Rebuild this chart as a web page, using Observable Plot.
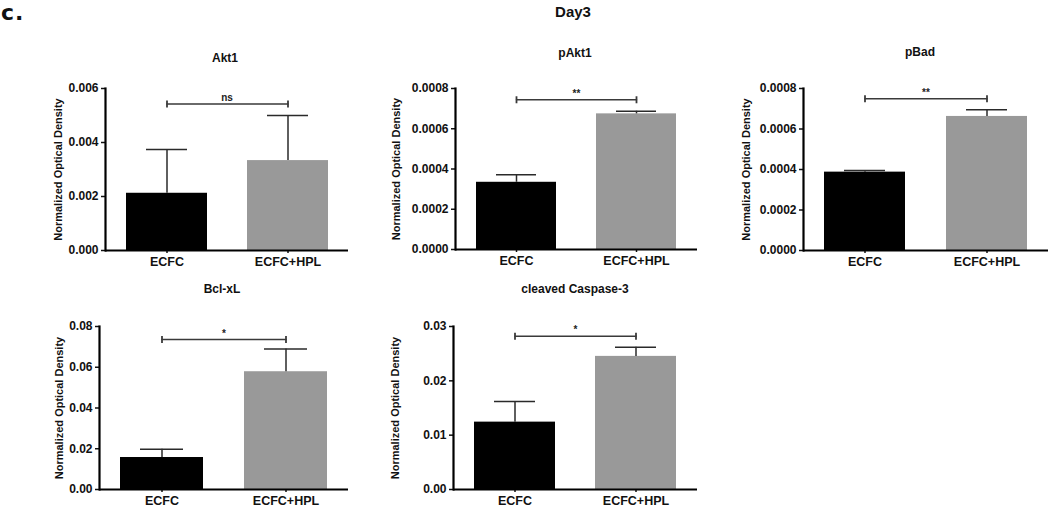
<!DOCTYPE html>
<html>
<head>
<meta charset="utf-8">
<script src="https://cdn.jsdelivr.net/npm/d3@7"></script>
<script src="https://cdn.jsdelivr.net/npm/@observablehq/plot@0.6"></script>
<style>
  html, body { margin: 0; padding: 0; background: #fff; }
  #root { position: relative; width: 1050px; height: 507px; overflow: hidden; font-family: "Liberation Sans", Arial, sans-serif; }
  .abs { position: absolute; }
  .title { position: absolute; font-weight: bold; font-size: 12px; color: #111; transform: translateX(-50%); white-space: nowrap; line-height: 1.2; }
</style>
</head>
<body>
<div id="root"></div>
<script>
// ---- Data ----
const groups = ["ECFC", "ECFC+HPL"];
const panelNames = ["Akt1", "pAkt1", "pBad", "Bcl-xL", "cleaved Caspase-3"];
const akt1Mean = [0.00212, 0.00333];
const akt1Upper = [0.00374, 0.00500];
const pakt1Mean = [0.000334, 0.000674];
const pakt1Upper = [0.000371, 0.000687];
const pbadMean = [0.000387, 0.000662];
const pbadUpper = [0.000395, 0.000695];
const bclMean = [0.0157, 0.0578];
const bclUpper = [0.0197, 0.0689];
const caspMean = [0.0124, 0.0245];
const caspUpper = [0.0162, 0.0262];
const sigHeights = [0.00543, 0.000744, 0.000749, 0.0736, 0.0282];
const sigLabels = ["ns", "**", "**", "*", "*"];
const yMaxes = [0.006, 0.0008, 0.0008, 0.08, 0.03];
const yTicks = [
  [0, 0.002, 0.004, 0.006],
  [0, 0.0002, 0.0004, 0.0006, 0.0008],
  [0, 0.0002, 0.0004, 0.0006, 0.0008],
  [0, 0.02, 0.04, 0.06, 0.08],
  [0, 0.01, 0.02, 0.03]
];
const tickDecimals = [3, 4, 4, 2, 2];
const yLabel = "Normalized Optical Density";
const figTitle = "Day3";
const panelLetter = "c.";

const means = [akt1Mean, pakt1Mean, pbadMean, bclMean, caspMean];
const uppers = [akt1Upper, pakt1Upper, pbadUpper, bclUpper, caspUpper];

// ---- Layout ----
const layout = [
  {left: 0,   top: 80,  height: 195, mL: 105, mR: 2, mT: 8, mB: 25, lab: 47, tx: 225, ty: 51},
  {left: 350, top: 80,  height: 195, mL: 105, mR: 3, mT: 8, mB: 26, lab: 59, tx: 575, ty: 46},
  {left: 700, top: 80,  height: 195, mL: 103, mR: 2, mT: 8, mB: 25, lab: 57, tx: 920, ty: 45},
  {left: 0,   top: 318, height: 189, mL: 99,  mR: 2, mT: 8, mB: 18, lab: 40, tx: 222, ty: 282},
  {left: 350, top: 318, height: 189, mL: 103, mR: 3, mT: 8, mB: 18, lab: 58, tx: 575, ty: 282}
];

const root = document.getElementById("root");

const letter = document.createElement("div");
letter.className = "abs";
letter.style.cssText = "left:1px;top:0px;font-size:22px;line-height:normal;font-weight:900;letter-spacing:1px;color:#111;font-family:'DejaVu Sans',Arial,sans-serif;";
letter.textContent = panelLetter;
root.appendChild(letter);

const day = document.createElement("div");
day.className = "title";
day.style.cssText += "left:573px;top:3px;font-size:15px;";
day.textContent = figTitle;
root.appendChild(day);

const vbar = {
  draw(context, size) {
    const h = Math.sqrt(size / Math.PI);
    context.moveTo(0, -h);
    context.lineTo(0, h);
  }
};

panelNames.forEach((name, i) => {
  const L = layout[i];
  const data = groups.map((g, j) => ({group: g, mean: means[i][j], upper: uppers[i][j]}));
  const sig = groups.map(g => ({group: g, y: sigHeights[i]}));
  const fmt = d3.format("." + tickDecimals[i] + "f");

  const plot = Plot.plot({
    width: 350,
    height: L.height,
    marginLeft: L.mL,
    marginRight: L.mR,
    marginTop: L.mT,
    marginBottom: L.mB,
    style: {fontFamily: "'Liberation Sans', Arial, sans-serif", fontWeight: "bold", fontSize: "12px", color: "#111", background: "transparent"},
    x: {type: "band", domain: groups, paddingInner: 0.333, paddingOuter: 0.17, align: 0.5, label: null},
    y: {domain: [0, yMaxes[i]], label: null},
    color: {domain: groups, range: ["#000000", "#999999"]},
    marks: [
      Plot.barY(data, {x: "group", y: "mean", fill: "group"}),
      Plot.ruleX(data, {x: "group", y1: "mean", y2: "upper", stroke: "#2a2a2a", strokeWidth: 1.5}),
      Plot.tickY(data, {x: "group", y: "upper", insetLeft: 20, insetRight: 20, stroke: "#2a2a2a", strokeWidth: 1.5}),
      Plot.line(sig, {x: "group", y: "y", stroke: "#3a3a3a", strokeWidth: 1.5}),
      Plot.dot(sig, {x: "group", y: "y", symbol: vbar, r: 3.5, fill: "none", stroke: "#3a3a3a", strokeWidth: 1.8}),
      Plot.text([sigHeights[i]], {y: d => d, frameAnchor: "middle", text: () => sigLabels[i], lineAnchor: "bottom", dy: -3, fontSize: 10, fill: "#222"}),
      Plot.axisY({ticks: yTicks[i], tickFormat: fmt, tickSize: 4, tickPadding: 3, label: null, strokeWidth: 1.5, fontSize: 12}),
      Plot.axisX({tickSize: 3, tickPadding: 4, label: null, strokeWidth: 1.5, fontSize: 12.5}),
      Plot.ruleY([0], {strokeWidth: 2.2, stroke: "#000"}),
      Plot.frame({anchor: "left", strokeWidth: 2.2, stroke: "#000"}),
      Plot.text([yLabel], {frameAnchor: "left", text: d => d, rotate: -90, dx: -L.lab, textAnchor: "middle", lineAnchor: "middle", fontSize: 11, fill: "#111"})
    ]
  });
  plot.style.position = "absolute";
  plot.style.left = L.left + "px";
  plot.style.top = L.top + "px";
  plot.style.overflow = "visible";
  root.appendChild(plot);

  const t = document.createElement("div");
  t.className = "title";
  t.style.left = L.tx + "px";
  t.style.top = L.ty + "px";
  t.textContent = name;
  root.appendChild(t);
});
</script>
</body>
</html>
